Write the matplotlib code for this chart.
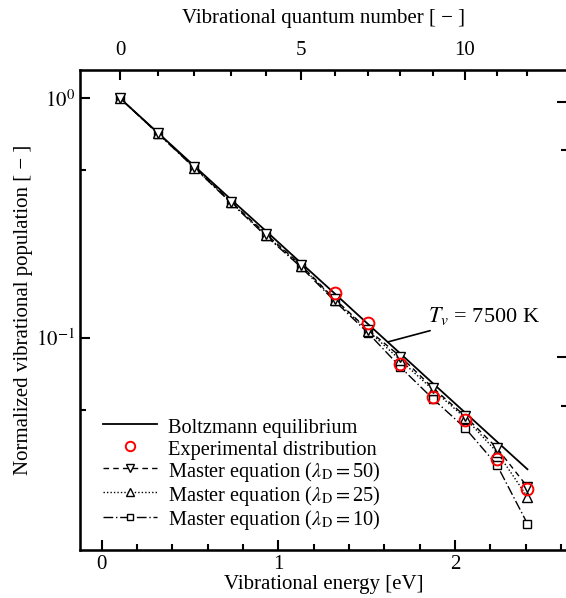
import matplotlib
matplotlib.use("Agg")
import matplotlib.pyplot as plt
import numpy as np

plt.rcParams['font.family'] = ['Liberation Serif', 'DejaVu Serif']
plt.rcParams['mathtext.fontset'] = 'stix'
plt.rcParams['font.size'] = 15

# vibrational levels v = 0..12 and their energies [eV]
levels = list(range(13))
energy = [0.104, 0.319, 0.525, 0.732, 0.930, 1.129, 1.319, 1.508, 1.692, 1.876, 2.057, 2.238, 2.411]

boltzmann = [1.0, 0.717, 0.521, 0.378, 0.279, 0.205, 0.153, 0.114, 0.0857, 0.0644, 0.0487, 0.0368, 0.0282]

# experimental points (v = 6..12)
exp_levels = [6, 7, 8, 9, 10, 11, 12]
experiment = [0.153, 0.115, 0.0777, 0.0567, 0.0453, 0.0311, 0.0233]

me50 = [1.0, 0.714, 0.515, 0.370, 0.271, 0.201, 0.145, 0.108, 0.0833, 0.0616, 0.0471, 0.0346, 0.0238]
me25 = [1.0, 0.713, 0.513, 0.368, 0.268, 0.199, 0.144, 0.107, 0.0805, 0.0606, 0.0463, 0.0333, 0.0216]
me10 = [1.0, 0.712, 0.512, 0.366, 0.266, 0.197, 0.1423, 0.1047, 0.0753, 0.0555, 0.0420, 0.0294, 0.0167]

top_major = [0, 5, 10]

fig = plt.figure(figsize=(5.66, 5.98), dpi=100)
ax = fig.add_axes([80/566, 48/598, 487/566, 480/598])

h_b, = ax.plot(energy, boltzmann, '-', color='black', lw=1.3, label='Boltzmann equilibrium')
h10, = ax.plot(energy, me10, color='black', lw=1, ls=(0, (7, 2, 1, 2)), marker='s', mfc='white',
               mec='black', ms=6, mew=1, label=r'Master equation ($\lambda_\mathrm{D}$$=$10)')
h25, = ax.plot(energy, me25, color='black', lw=1, ls=(0, (1, 1.5)), marker='^', mfc='white',
               mec='black', ms=7.5, mew=1, label=r'Master equation ($\lambda_\mathrm{D}$$=$25)')
h50, = ax.plot(energy, me50, color='black', lw=1, ls=(0, (4, 3)), marker='v', mfc='white',
               mec='black', ms=7.5, mew=1, label=r'Master equation ($\lambda_\mathrm{D}$$=$50)')
exp_x = [energy[v] for v in exp_levels]
h_e, = ax.plot(exp_x, experiment, 'o', mfc='none', mec='red', mew=1.4, ms=8.5, ls='none',
               label='Experimental distribution', zorder=5)

ax.set_yscale('log')
ax.set_xlim(-0.123, 2.635)
ax.set_ylim(0.01297, 1.313)
ax.set_xticks([0, 1, 2])
ax.set_xticks(np.arange(0, 2.61, 0.2), minor=True)
ax.set_yticks([1, 0.1])
ax.set_yticks([0.5, 0.05], minor=True)
ax.set_yticklabels([r'$10^0$', r'$10^{-1}$'])
ax.tick_params(which='both', direction='in', top=False, right=False, width=1.5)
ax.tick_params(which='major', length=7)
ax.tick_params(which='minor', length=4)
for s in ax.spines.values():
    s.set_linewidth(1.8)

ax.set_xlabel('Vibrational energy [eV]', labelpad=1)
ax.set_ylabel('Normalized vibrational population [ − ]', labelpad=2)

# top axis: quantum number
ax2 = ax.twiny()
ax2.set_xlim(ax.get_xlim())
ax2.set_xticks([energy[v] for v in top_major])
ax2.set_xticklabels([str(v) for v in top_major])
ax2.set_xticks([energy[v] for v in levels if v not in top_major], minor=True)
ax2.tick_params(which='both', direction='in', width=1.5, pad=7)
ax2.tick_params(which='major', length=7)
ax2.tick_params(which='minor', length=4)
ax2.set_xlabel('Vibrational quantum number [ − ]', labelpad=13)

# right side ticks
ax3 = ax.twinx()
ax3.set_ylim(0, 1)
ax3.set_yticks([0.403, 0.934])
ax3.set_yticks([0.299, 0.833], minor=True)
ax3.set_yticklabels([])
ax3.tick_params(which='both', direction='in', width=1.5)
ax3.tick_params(which='major', length=7)
ax3.tick_params(which='minor', length=4)

ax.annotate(r'$T_v$ = 7500 K', xy=(1.621, 0.096), xytext=(1.85, 0.123),
            va='center', ha='left', fontsize=16,
            arrowprops=dict(arrowstyle='-', color='black', lw=1.2, shrinkA=2, shrinkB=0))

ax.legend([h_b, h_e, h50, h25, h10], [h.get_label() for h in [h_b, h_e, h50, h25, h10]],
          loc='lower left', bbox_to_anchor=(0.047, 0.037), frameon=False, fontsize=14.7,
          handlelength=2.65, handletextpad=0.55, labelspacing=0.0, handleheight=1.17,
          borderpad=0, borderaxespad=0, numpoints=1, markerscale=0.8)

fig.savefig('out.png', dpi=100)
